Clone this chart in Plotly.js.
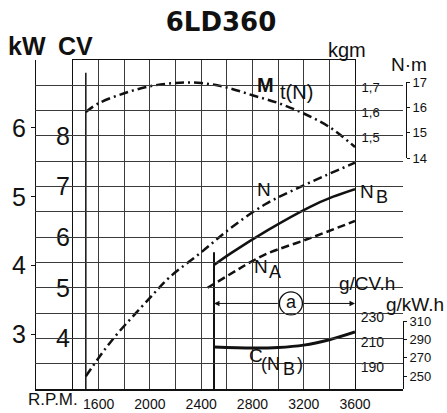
<!DOCTYPE html>
<html>
<head>
<meta charset="utf-8">
<script src="https://cdn.plot.ly/plotly-3.0.1.min.js"></script>
<style>html,body{margin:0;padding:0;background:#fff;}#chart{width:447px;height:413px;}</style>
</head>
<body>
<div id="chart"></div>
<script>
// ---- data ----
const rpmTicks = [1400,1600,1800,2000,2200,2400,2600,2800,3000,3200,3400,3600];
const rpmTickText = ['', '1600', '', '2000', '', '2400', '', '2800', '', '3200', '', '3600'];
const cvTicks = [3,3.5,4,4.5,5,5.5,6,6.5,7,7.5,8,8.5,9,9.5];
const cvTickText = ['', '', '4', '', '5', '', '6', '', '7', '', '8', '', '', ''];
const kwTicks = [3,4,5,6];
const kgmTicks = [1.5,1.6,1.7];
const kgmTickText = ['1,5','1,6','1,7'];
const nmTicks = [14,15,16,17];
const gcvTicks = [190,210,230];
const gkwTicks = [250,270,290,310];

// Torque Mt(N), kgm
const rpmMt = [1500,1600,1800,2000,2200,2400,2600,2800,3000,3200,3400,3600];
const mtKgm = [1.60,1.635,1.675,1.703,1.716,1.716,1.698,1.667,1.636,1.594,1.54,1.46];
// Power N, CV
const rpmN = [1500,1700,2000,2150,2400,2630,2900,3120,3380,3600];
const nCV = [3.25,3.95,4.8,5.2,5.7,6.18,6.65,6.93,7.23,7.47];
// Power NB, CV
const rpmNB = [2500,2630,2920,3250,3430,3600];
const nbCV = [5.45,5.68,6.14,6.6,6.8,6.95];
// Power NA, CV
const rpmNA = [2450,2680,2780,2920,3250,3600];
const naCV = [5.0,5.35,5.5,5.68,5.98,6.32];
// Specific consumption C(NB), g/CV.h
const rpmC = [2500,2800,3000,3200,3400,3600];
const cGCV = [206,205.2,205.6,207.5,211.8,218];
// reference verticals and range a
const minRpm = [1500,1500];
const minRpmCV = [3,9.25];
const ratedRpm = [2500,2500];
const ratedRpmCV = [3,5.7];
const rangeA = [2500,3600];
const rangeACV = 4.69;
const circleA = {rpm:3100, cv:4.69, label:'a'};

// ---- layout helpers ----
const FONT = 'Liberation Sans, Arial, Helvetica, sans-serif';
const L = 35, R = 410, T = 60, B = 389;
const px = X => (X - L) / (R - L);
const py = Y => (B - Y) / (B - T);
const INK = '#111';
const GRID = '#3a3a3a';

const traces = [
  {x: rpmMt, y: mtKgm, yaxis: 'y3', mode: 'lines', line: {color: INK, width: 2.5, dash: '9px,4px,2px,4px', shape: 'spline'}, hoverinfo: 'skip'},
  {x: rpmN, y: nCV, mode: 'lines', line: {color: INK, width: 2.5, dash: '9px,4px,2px,4px', shape: 'spline'}, hoverinfo: 'skip'},
  {x: rpmNB, y: nbCV, mode: 'lines', line: {color: INK, width: 2.5, shape: 'spline'}, hoverinfo: 'skip'},
  {x: rpmNA, y: naCV, mode: 'lines', line: {color: INK, width: 2.5, dash: '8px,4px', shape: 'spline'}, hoverinfo: 'skip'},
  {x: rpmC, y: cGCV, yaxis: 'y4', mode: 'lines', line: {color: INK, width: 3, shape: 'spline'}, hoverinfo: 'skip'},
  {x: minRpm, y: minRpmCV, mode: 'lines', line: {color: INK, width: 1.5}, hoverinfo: 'skip'},
  {x: ratedRpm, y: ratedRpmCV, mode: 'lines', line: {color: INK, width: 2}, hoverinfo: 'skip'},
  {x: [circleA.rpm], y: [circleA.cv], mode: 'markers+text', text: [circleA.label], textposition: 'middle center',
   textfont: {family: FONT, size: 18, color: INK}, marker: {symbol: 'circle-open', size: 23, color: INK, line: {width: 1.3, color: INK}}, hoverinfo: 'skip'},
  // carriers for the extra axes
  {x: [null], y: [null], yaxis: 'y2', hoverinfo: 'skip'},
  {x: [null], y: [null], xaxis: 'x2', yaxis: 'y', hoverinfo: 'skip'},
  {x: [null], y: [null], xaxis: 'x2', yaxis: 'y5', hoverinfo: 'skip'},
  {x: [null], y: [null], xaxis: 'x2', yaxis: 'y6', hoverinfo: 'skip'}
];

function txt(text, X, Y, size, extra) {
  return Object.assign({text: text, x: px(X), y: py(Y), xref: 'paper', yref: 'paper', showarrow: false,
    xanchor: 'center', yanchor: 'middle', font: {family: FONT, size: size, color: INK}}, extra || {});
}

const annotations = [
  txt('<b>kW</b>', 27, 46, 25),
  txt('<b>CV</b>', 75, 46, 25),
  txt('kgm', 347, 50, 20),
  txt('N·m', 409, 64, 19),
  txt('<b>M</b>', 265, 85, 20),
  txt('t(N)', 296, 92, 20),
  txt('N', 264, 189, 19),
  txt('N', 367, 192, 19),
  txt('B', 382, 197, 18),
  txt('N', 261, 266, 19),
  txt('A', 275, 272, 18),
  txt('C', 256, 355, 19),
  txt('(N', 270, 364, 18),
  txt('B', 289, 369, 18),
  txt(')', 300, 364, 18),
  txt('g/CV.h', 367, 283, 19),
  txt('g/kW.h', 415, 304, 19),
  txt('R.P.M.', 53, 399, 17),
  {x: rangeA[0], y: rangeACV, ax: 3010, ay: rangeACV, xref: 'x', yref: 'y', axref: 'x', ayref: 'y', text: '',
   showarrow: true, arrowhead: 2, arrowsize: 1.1, arrowwidth: 1, arrowcolor: INK},
  {x: rangeA[1], y: rangeACV, ax: 3190, ay: rangeACV, xref: 'x', yref: 'y', axref: 'x', ayref: 'y', text: '',
   showarrow: true, arrowhead: 2, arrowsize: 1.1, arrowwidth: 1, arrowcolor: INK}
];

const layout = {
  width: 447, height: 413,
  margin: {l: L, r: 447 - R, t: T, b: 413 - B, pad: 0},
  paper_bgcolor: '#fff', plot_bgcolor: 'rgba(0,0,0,0)',
  showlegend: false,
  font: {family: FONT, color: INK},
  title: {text: '<b>6LD360</b>', x: 221 / 447, xanchor: 'center', y: 1 - 22 / 413, yanchor: 'middle',
          font: {family: 'DejaVu Sans, sans-serif', size: 26, color: INK}},
  xaxis: {domain: [px(73), px(355)], range: [1400, 3600], tickmode: 'array', tickvals: rpmTicks, ticktext: rpmTickText,
          showgrid: true, gridcolor: GRID, gridwidth: 1, showline: true, mirror: true, linecolor: INK, linewidth: 1,
          ticks: 'outside', ticklen: 2, tickcolor: 'rgba(0,0,0,0)', tickfont: {family: FONT, size: 14, color: INK},
          zeroline: false, fixedrange: true},
  xaxis2: {domain: [0, px(403)], anchor: 'free', position: 0, range: [0, 1], showline: true, linecolor: INK, linewidth: 1.5,
           showgrid: false, showticklabels: false, ticks: '', zeroline: false},
  yaxis: {domain: [0, 1], range: [3, 9.5], tickmode: 'array', tickvals: cvTicks, ticktext: cvTickText,
          showgrid: true, gridcolor: GRID, gridwidth: 1, showline: true, mirror: true, linecolor: INK, linewidth: 1,
          ticks: '', ticklabelstandoff: -3, tickfont: {family: FONT, size: 25, color: INK},
          zeroline: false, anchor: 'x'},
  yaxis2: {overlaying: 'y', anchor: 'free', position: 0, side: 'left', range: [3 * 0.7355, 9.5 * 0.7355],
           tickmode: 'array', tickvals: kwTicks, ticks: 'outside', ticklen: 4, tickcolor: INK, showline: true, linecolor: INK,
           linewidth: 1.2, showgrid: false, zeroline: false, tickfont: {family: FONT, size: 25, color: INK}},
  yaxis3: {overlaying: 'y', anchor: 'x', side: 'right', range: [0.492, 1.808], tickmode: 'array', tickvals: kgmTicks,
           ticktext: kgmTickText, ticks: 'outside', ticklen: 3, tickcolor: 'rgba(0,0,0,0)', showgrid: false, zeroline: false,
           showline: false, tickfont: {family: FONT, size: 13, color: INK}},
  yaxis4: {overlaying: 'y', anchor: 'x', side: 'right', range: [172.4, 435.6], tickmode: 'array', tickvals: gcvTicks,
           ticks: 'outside', ticklen: 2, tickcolor: 'rgba(0,0,0,0)', showgrid: false, zeroline: false, showline: false,
           tickfont: {family: FONT, size: 14, color: INK}},
  yaxis5: {domain: [py(158), py(82)], anchor: 'free', position: px(406), side: 'right', range: [14, 17], tickmode: 'array',
           tickvals: nmTicks, ticks: 'outside', ticklen: 3, tickcolor: INK, showline: true, linecolor: INK, linewidth: 1,
           showgrid: false, zeroline: false, tickfont: {family: FONT, size: 13, color: INK}},
  yaxis6: {domain: [0, py(321)], anchor: 'free', position: px(403), side: 'right', range: [235.9, 310], tickmode: 'array',
           tickvals: gkwTicks, ticks: 'outside', ticklen: 3, tickcolor: INK, showline: true, linecolor: INK, linewidth: 1,
           showgrid: false, zeroline: false, tickfont: {family: FONT, size: 13, color: INK}},
  annotations: annotations
};

Plotly.newPlot('chart', traces, layout, {staticPlot: true, displayModeBar: false});
</script>
</body>
</html>
